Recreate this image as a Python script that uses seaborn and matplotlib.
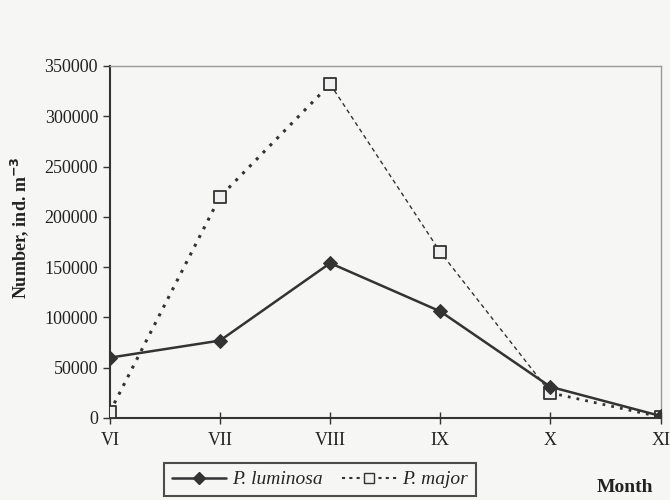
import matplotlib
matplotlib.use("Agg")
import matplotlib.pyplot as plt
import seaborn as sns
import pandas as pd
from matplotlib.lines import Line2D

months = ["VI", "VII", "VIII", "IX", "X", "XI"]
luminosa = [60000, 77000, 154000, 106000, 31000, 2000]
major = [6000, 220000, 332000, 165000, 25000, 1000]
yticks = [0, 50000, 100000, 150000, 200000, 250000, 300000, 350000]

sns.set_theme(style="ticks")
plt.rcParams["font.family"] = ["Liberation Serif", "DejaVu Serif"]

bg = "#f6f6f4"
ink = "#333333"

fig = plt.figure(figsize=(6.7, 5.0), dpi=100, facecolor=bg)
ax = fig.add_axes([0.164, 0.164, 0.822, 0.704], facecolor=bg)

x = list(range(len(months)))
df_l = pd.DataFrame({"m": x, "v": luminosa})
df_m = pd.DataFrame({"m": x, "v": major})

# P. major: dotted thick rising part, thin dashed descending, dotted tail
segs = [(0, 3, (0, (1, 2.2)), 2.2), (2, 5, (0, (3, 2.5)), 1.0), (4, 6, (0, (1, 2.2)), 2.0)]
for a, b, ls, lw in segs:
    sub = df_m.iloc[a:b]
    sns.lineplot(data=sub, x="m", y="v", ax=ax, color=ink, linewidth=lw,
                 linestyle=ls, legend=False)
sns.scatterplot(data=df_m, x="m", y="v", ax=ax, marker="s", s=70,
                facecolor="#f0f0f0", edgecolor=ink, linewidth=1.3, legend=False, zorder=4)

sns.lineplot(data=df_l, x="m", y="v", ax=ax, color=ink, linewidth=1.8,
             marker="D", markersize=7, markerfacecolor=ink, markeredgecolor=ink,
             legend=False, zorder=5)

ax.set_xlim(0, 5)
ax.set_ylim(0, 350000)
ax.set_xticks(x)
ax.set_xticklabels(months)
ax.set_yticks(yticks)
ax.set_yticklabels([str(t) for t in yticks])
ax.tick_params(axis="x", direction="inout", length=8, width=1, colors=ink,
               labelsize=13, pad=6, labelcolor="#222222")
ax.tick_params(axis="y", direction="out", length=5, width=1, colors=ink,
               labelsize=13, labelcolor="#222222")
ax.set_xlabel("")
ax.set_ylabel("Number, ind. m$^{\\mathbf{-3}}$", fontsize=13, fontweight="bold",
              color="#222222")
ax.yaxis.set_label_coords(-0.143, 0.54)

for s in ["left", "bottom"]:
    ax.spines[s].set_color(ink)
    ax.spines[s].set_linewidth(1.5)
for s in ["top", "right"]:
    ax.spines[s].set_color("#9a9a9a")
    ax.spines[s].set_linewidth(1.0)

handles = [
    Line2D([], [], color=ink, linewidth=1.8, marker="D", markersize=6,
           markerfacecolor=ink, markeredgecolor=ink),
    Line2D([], [], color=ink, linewidth=1.5, linestyle=(0, (1.5, 2)), marker="s",
           markersize=7, markerfacecolor="#f0f0f0", markeredgecolor=ink),
]
leg = fig.legend(handles, ["P. luminosa", "P. major"], loc="upper left",
                 bbox_to_anchor=(0.245, 0.074), ncol=2, frameon=True,
                 prop={"family": ["Liberation Serif"], "style": "italic", "size": 14},
                 handlelength=2.8, handletextpad=0.3, columnspacing=1.0,
                 fancybox=False, borderpad=0.4, borderaxespad=0)
leg.get_frame().set_edgecolor("#222222")
leg.get_frame().set_linewidth(1.5)
leg.get_frame().set_facecolor(bg)

fig.text(0.891, 0.026, "Month", fontsize=14, fontweight="bold", color="#222222",
         ha="left", va="center")

fig.savefig("out.png", dpi=100, facecolor=bg)
